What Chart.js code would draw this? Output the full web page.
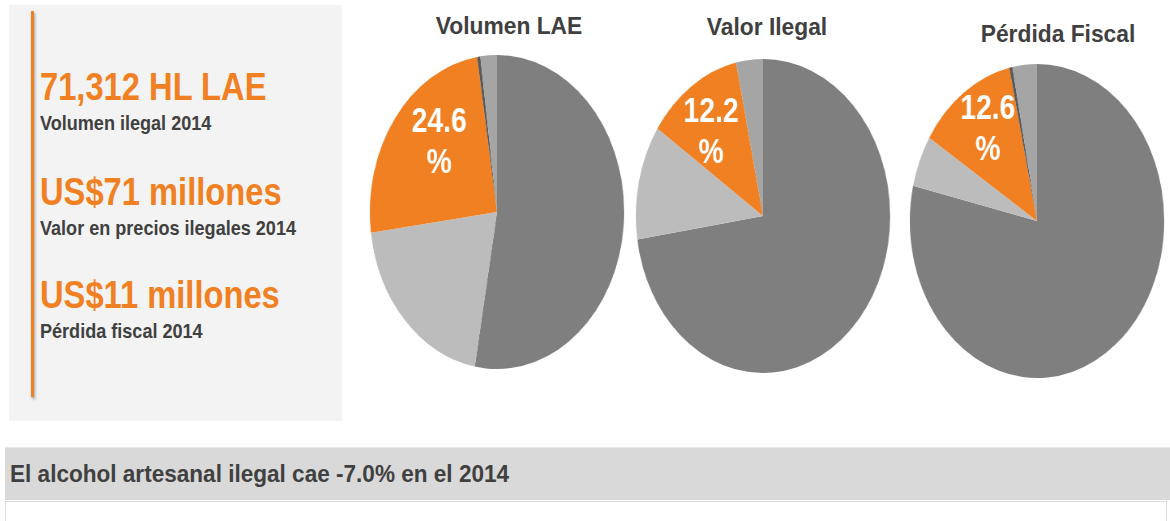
<!DOCTYPE html>
<html>
<head>
<meta charset="utf-8">
<script src="https://cdn.jsdelivr.net/npm/chart.js@4"></script>
<style>
  body { margin: 0; width: 1170px; height: 521px; overflow: hidden; background: #fff;
         font-family: "Liberation Sans", Arial, sans-serif; position: relative; }
  .abs { position: absolute; }
  .panel { left: 9px; top: 5px; width: 333px; height: 416px; background: #f3f3f3; }
  .rule { left: 31px; top: 11px; width: 3px; height: 386px; background: #f08022;
          box-shadow: 1px 2px 3px rgba(0,0,0,0.35); }
  .stat { left: 40px; white-space: nowrap; font-weight: bold; line-height: 1;
          transform: scaleX(0.86); transform-origin: left top; }
  .big { font-size: 38px; color: #f08022; }
  .small { font-size: 21px; color: #404040; }
  .title { width: 300px; text-align: center; font-size: 24px; font-weight: bold; line-height: 1;
           color: #404040; transform: scaleX(0.95); white-space: nowrap; }
  .pie { width: 318px; height: 318px; transform: scaleX(0.81); transform-origin: 50% 50%; }
  .bar { left: 5px; top: 447px; width: 1165px; height: 52px; background: #d9d9d9;
         border-top: 1px solid #e8e8e8; }
  .barText { left: 10px; top: 462px; font-size: 24px; font-weight: bold; line-height: 1;
             color: #404040; white-space: nowrap; transform: scaleX(0.94); transform-origin: left top; }
  .box { left: 5px; top: 501px; width: 1160px; height: 40px; border: 1px solid #dcdcdc; background: #fff; }
</style>
</head>
<body>
<div class="abs panel"></div>
<div class="abs rule"></div>
<div id="stats"></div>
<div id="pies"></div>
<div class="abs bar"></div>
<div class="abs barText" id="barText"></div>
<div class="abs box"></div>

<script>
// Left-hand figures
const statValues = ['71,312 HL LAE', 'US$71 millones', 'US$11 millones'];
const statLabels = ['Volumen ilegal 2014', 'Valor en precios ilegales 2014', 'Pérdida fiscal 2014'];
const statTops = [68, 173, 276];

// Pie data (share in %, clockwise from 12 o'clock)
const segmentNames = ['Segmento 1', 'Segmento 2', 'Ilegal', 'Segmento 4', 'Segmento 5'];
const pieTitles = ['Volumen LAE', 'Valor Ilegal', 'Pérdida Fiscal'];
const volumenValues = [52.8, 20.1, 24.6, 0.4, 2.1];
const valorValues = [72.6, 11.8, 12.2, 0, 3.4];
const perdidaValues = [78.6, 5.3, 12.6, 0.4, 3.1];
const highlightIndex = 2;

const footerText = 'El alcohol artesanal ilegal cae -7.0% en el 2014';

const segmentColors = ['#7f7f7f', '#bcbcbc', '#f08022', '#595959', '#a5a5a5'];

// layout of the three pies: centre, title position, label nudge
const pieCenters = [[496.5, 211.5], [763, 215.5], [1037, 221]];
const titleSpots = [[509, 14], [767, 15], [1058, 22]];
const labelNudge = [[13, -7], [-5, 3], [0, -6]];

const stats = document.getElementById('stats');
statValues.forEach((v, i) => {
    const a = document.createElement('div');
    a.className = 'abs stat big';
    a.style.top = statTops[i] + 'px';
    a.textContent = v;
    stats.appendChild(a);
    const b = document.createElement('div');
    b.className = 'abs stat small';
    b.style.top = (statTops[i] + 44) + 'px';
    b.textContent = statLabels[i];
    stats.appendChild(b);
});
document.getElementById('barText').textContent = footerText;

// writes the highlighted share inside its slice, on two lines
const sliceLabel = {
    id: 'sliceLabel',
    afterDatasetsDraw(chart, args, opts) {
        const ctx = chart.ctx;
        const arc = chart.getDatasetMeta(0).data[highlightIndex];
        const value = chart.data.datasets[0].data[highlightIndex];
        const mid = (arc.startAngle + arc.endAngle) / 2;
        const r = arc.outerRadius * 0.67;
        const x = arc.x + Math.cos(mid) * r + opts.dx;
        const y = arc.y + Math.sin(mid) * r + opts.dy;
        ctx.save();
        ctx.fillStyle = '#ffffff';
        ctx.font = 'bold 35px "Liberation Sans", Arial, sans-serif';
        ctx.textAlign = 'center';
        ctx.textBaseline = 'middle';
        ctx.fillText(value.toFixed(1), x, y - 20);
        ctx.fillText('%', x, y + 21);
        ctx.restore();
    }
};

const pieData = [volumenValues, valorValues, perdidaValues];
const pies = document.getElementById('pies');

pieData.forEach((values, i) => {
    const t = document.createElement('div');
    t.className = 'abs title';
    t.style.left = (titleSpots[i][0] - 150) + 'px';
    t.style.top = titleSpots[i][1] + 'px';
    t.textContent = pieTitles[i];
    pies.appendChild(t);

    const box = document.createElement('div');
    box.className = 'abs pie';
    box.style.left = (pieCenters[i][0] - 159) + 'px';
    box.style.top = (pieCenters[i][1] - 159) + 'px';
    const canvas = document.createElement('canvas');
    box.appendChild(canvas);
    pies.appendChild(box);

    new Chart(canvas.getContext('2d'), {
        type: 'pie',
        data: {
            labels: segmentNames,
            datasets: [{
                data: values,
                backgroundColor: segmentColors,
                borderWidth: 0
            }]
        },
        options: {
            responsive: true,
            maintainAspectRatio: false,
            animation: false,
            layout: { padding: 2 },
            plugins: {
                legend: { display: false },
                tooltip: { enabled: false },
                sliceLabel: { dx: labelNudge[i][0], dy: labelNudge[i][1] }
            }
        },
        plugins: [sliceLabel]
    });
});
</script>
</body>
</html>
